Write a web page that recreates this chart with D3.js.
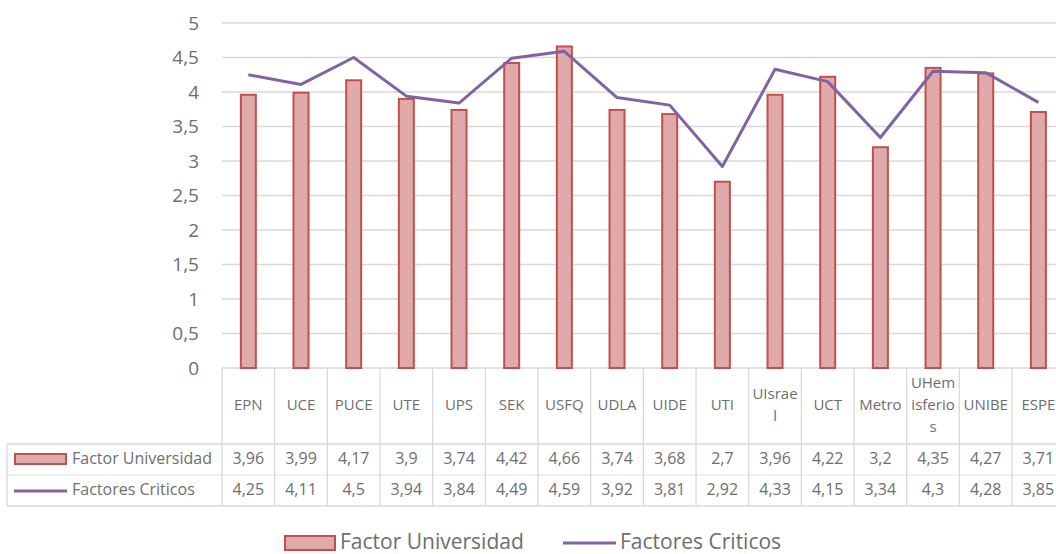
<!DOCTYPE html>
<html>
<head>
<meta charset="utf-8">
<script src="https://cdn.jsdelivr.net/npm/d3@7"></script>
<style>
  body { margin: 0; background: #fff; }
  svg { font-family: "Open Sans", "Liberation Sans", sans-serif; }
</style>
</head>
<body>
<svg id="chart" width="1056" height="554"></svg>
<script>
// data
var categories = ["EPN", "UCE", "PUCE", "UTE", "UPS", "SEK", "USFQ", "UDLA", "UIDE", "UTI", "UIsrael", "UCT", "Metro", "UHemisferios", "UNIBE", "ESPE"];
var tickLabels = [["EPN"], ["UCE"], ["PUCE"], ["UTE"], ["UPS"], ["SEK"], ["USFQ"], ["UDLA"], ["UIDE"], ["UTI"], ["UIsrae", "l"], ["UCT"], ["Metro"], ["UHem", "isferio", "s"], ["UNIBE"], ["ESPE"]];
var factorUniversidad = [3.96, 3.99, 4.17, 3.9, 3.74, 4.42, 4.66, 3.74, 3.68, 2.7, 3.96, 4.22, 3.2, 4.35, 4.27, 3.71];
var factoresCriticos = [4.25, 4.11, 4.5, 3.94, 3.84, 4.49, 4.59, 3.92, 3.81, 2.92, 4.33, 4.15, 3.34, 4.3, 4.28, 3.85];
var yTicks = [0, 0.5, 1, 1.5, 2, 2.5, 3, 3.5, 4, 4.5, 5];

var barFill = "#dfaaa9", barStroke = "#c0504d", lineColor = "#8064a2";
var gridColor = "#d9d9d9", textColor = "#6e6e6e";

var svg = d3.select("#chart");
var left = 222, colW = 52.67;
var x = d3.scaleBand().domain(categories).range([left, left + colW * categories.length]);
var y = d3.scaleLinear().domain([0, 5]).range([368, 23]);

var fmt = function(v) { return String(v).replace(".", ","); };

// gridlines
svg.append("g").selectAll("line")
  .data(yTicks)
  .enter().append("line")
    .attr("x1", left).attr("x2", 1056)
    .attr("y1", function(d) { return y(d); })
    .attr("y2", function(d) { return y(d); })
    .attr("stroke", gridColor)
    .attr("stroke-width", 1.3);

// y axis labels
var yAxis = svg.append("g")
    .attr("transform", "translate(" + left + ",0)")
    .call(d3.axisLeft(y).tickValues(yTicks).tickSize(0).tickPadding(23).tickFormat(fmt));
yAxis.select(".domain").remove();
yAxis.selectAll("text")
    .attr("fill", textColor)
    .style("font-size", "19px")
    .style("font-family", "'Open Sans', sans-serif");

// bars
svg.append("g").selectAll("rect")
  .data(factorUniversidad)
  .enter().append("rect")
    .attr("x", function(d, i) { return x(categories[i]) + x.bandwidth() / 2 - 7.5; })
    .attr("width", 15)
    .attr("y", function(d) { return y(d); })
    .attr("height", function(d) { return y(0) - y(d); })
    .attr("fill", barFill)
    .attr("stroke", barStroke)
    .attr("stroke-width", 2);

// line
var line = d3.line()
    .x(function(d, i) { return x(categories[i]) + x.bandwidth() / 2; })
    .y(function(d) { return y(d); });

svg.append("path")
    .datum(factoresCriticos)
    .attr("d", line)
    .attr("fill", "none")
    .attr("stroke", lineColor)
    .attr("stroke-width", 3)
    .attr("stroke-linejoin", "round");

// data table
var table = svg.append("g").attr("stroke", gridColor).attr("stroke-width", 1.3);
var rowTop = 368, rowHead = 444, rowMid = 475, rowBot = 506;
var right = left + colW * categories.length;

categories.concat(["end"]).forEach(function(c, i) {
  var xx = left + colW * i;
  table.append("line").attr("x1", xx).attr("x2", xx).attr("y1", rowTop).attr("y2", rowBot);
});
table.append("line").attr("x1", 7).attr("x2", right).attr("y1", rowHead).attr("y2", rowHead);
table.append("line").attr("x1", 7).attr("x2", right).attr("y1", rowMid).attr("y2", rowMid).attr("stroke-opacity", 0.5);
table.append("line").attr("x1", 7).attr("x2", right).attr("y1", rowBot).attr("y2", rowBot);
table.append("line").attr("x1", 7).attr("x2", 7).attr("y1", rowHead).attr("y2", rowBot);

// category labels
svg.append("g").selectAll("text")
  .data(tickLabels)
  .enter().append("text")
    .attr("x", function(d, i) { return x(categories[i]) + x.bandwidth() / 2; })
    .attr("y", function(d) { return 406 - (d.length - 1) * 11; })
    .attr("text-anchor", "middle")
    .attr("dominant-baseline", "middle")
    .attr("fill", textColor)
    .style("font-size", "15px")
    .each(function(d) {
      var t = d3.select(this);
      d.forEach(function(s, k) {
        t.append("tspan")
          .attr("x", t.attr("x"))
          .attr("dy", k === 0 ? 0 : 22)
          .text(s);
      });
    });

// table values
[factorUniversidad, factoresCriticos].forEach(function(series, r) {
  svg.append("g").selectAll("text")
    .data(series)
    .enter().append("text")
      .attr("x", function(d, i) { return x(categories[i]) + x.bandwidth() / 2; })
      .attr("y", r === 0 ? 460 : 491)
      .attr("text-anchor", "middle")
      .attr("dominant-baseline", "middle")
      .attr("fill", textColor)
      .style("font-size", "16px")
      .text(fmt);
});

// legend keys inside the table
svg.append("rect").attr("x", 15).attr("y", 454).attr("width", 51).attr("height", 10)
    .attr("fill", barFill).attr("stroke", barStroke).attr("stroke-width", 2);
svg.append("text").attr("x", 72).attr("y", 460).attr("dominant-baseline", "middle")
    .attr("fill", textColor).style("font-size", "16px").text("Factor Universidad");
svg.append("line").attr("x1", 14).attr("x2", 67).attr("y1", 491).attr("y2", 491)
    .attr("stroke", lineColor).attr("stroke-width", 3);
svg.append("text").attr("x", 72).attr("y", 491).attr("dominant-baseline", "middle")
    .attr("fill", textColor).style("font-size", "16px").text("Factores Criticos");

// bottom legend
var legend = svg.append("g");
legend.append("rect").attr("x", 285).attr("y", 536).attr("width", 50).attr("height", 14)
    .attr("fill", barFill).attr("stroke", barStroke).attr("stroke-width", 2);
legend.append("text").attr("x", 340).attr("y", 543).attr("dominant-baseline", "middle")
    .attr("fill", textColor).style("font-size", "21px").text("Factor Universidad");
legend.append("line").attr("x1", 563).attr("x2", 616).attr("y1", 543).attr("y2", 543)
    .attr("stroke", lineColor).attr("stroke-width", 3);
legend.append("text").attr("x", 620).attr("y", 543).attr("dominant-baseline", "middle")
    .attr("fill", textColor).style("font-size", "21px").text("Factores Criticos");
</script>
</body>
</html>
